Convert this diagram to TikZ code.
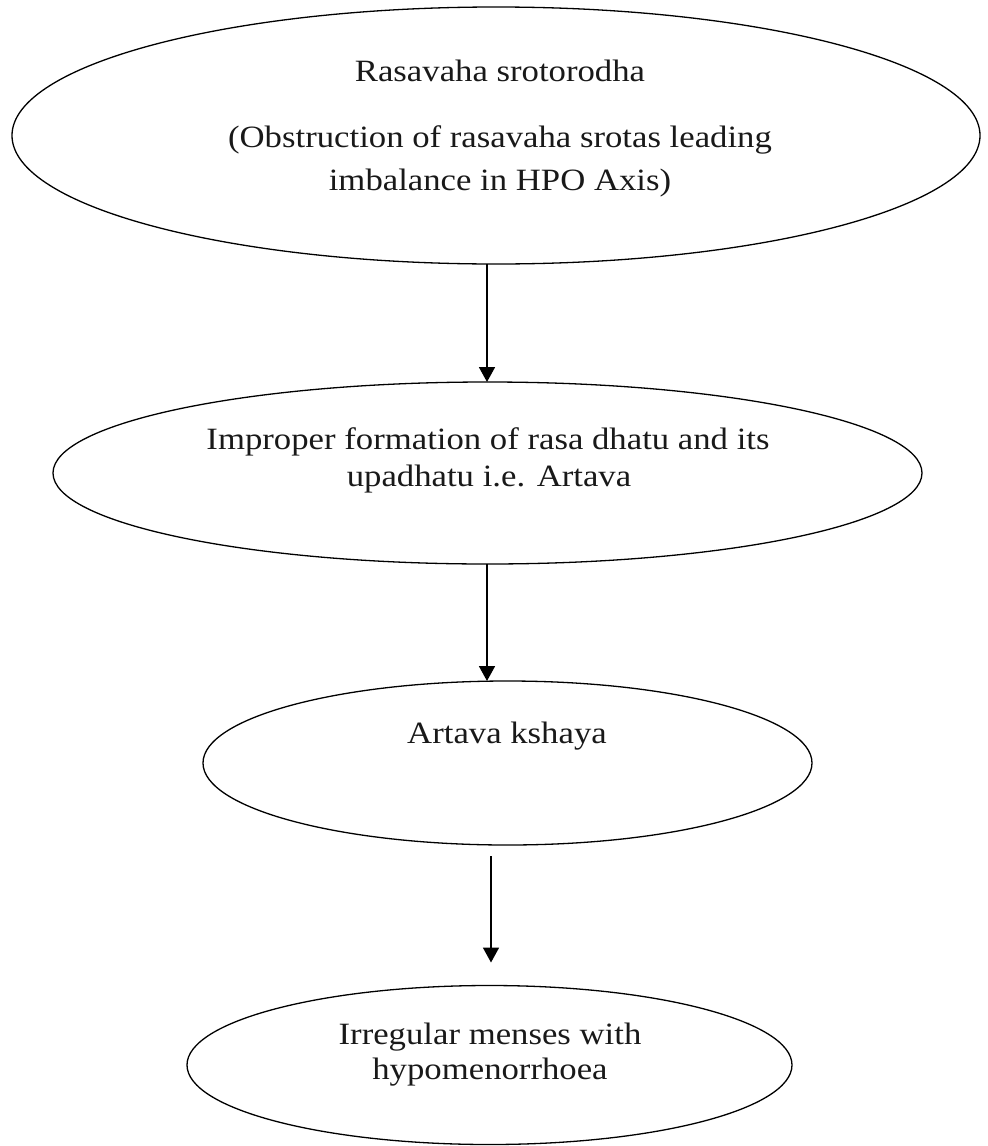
\documentclass[tikz,border=0pt]{standalone}
\usepackage{fontspec}
\setmainfont{Liberation Serif}[FakeStretch=1.12]
\usetikzlibrary{shapes.geometric,arrows.meta}
\begin{document}
\begin{tikzpicture}[x=1pt,y=-1pt,
  oval/.style={draw=black,ellipse,line width=1.3pt,inner sep=0pt,outer sep=0pt},
  lbl/.style={anchor=base,inner sep=0pt,text=black!90,font=\fontsize{31}{37}\selectfont},
  arr/.style={line width=1.8pt,-{Triangle[length=15pt,width=16pt]}}]
\useasboundingbox (0,0) rectangle (988,1146);
% ellipses
\node[oval,minimum width=968pt,minimum height=257pt] (e1) at (496,135.5) {};
\node[oval,minimum width=869pt,minimum height=182pt] (e2) at (487.5,473) {};
\node[oval,minimum width=609pt,minimum height=164pt] (e3) at (507.5,763) {};
\node[oval,minimum width=605pt,minimum height=159pt] (e4) at (489.5,1065) {};
% texts
\node[lbl] (t1a) at (500,81) {Rasavaha srotorodha};
\node[lbl] (t1b) at (500,147) {(Obstruction of rasavaha srotas leading};
\node[lbl] (t1c) at (500,190) {imbalance in HPO Axis)};
\node[lbl] (t2a) at (488,449) {Improper formation of rasa dhatu and its};
\node[lbl] (t2b) at (489,486) {upadhatu i.e. Artava};
\node[lbl] (t3) at (507,743) {Artava kshaya};
\node[lbl] (t4a) at (490,1044) {Irregular menses with};
\node[lbl] (t4b) at (490,1079) {hypomenorrhoea};
% arrow columns
\coordinate (c1) at (487,0);
\coordinate (c2) at (487,0);
\coordinate (c3) at (491,0);
\draw[arr] (e1.south -| c1) -- (e2.north -| c1);
\draw[arr] (e2.south -| c2) -- (e3.north -| c2);
\draw[arr,shorten <=11pt,shorten >=23pt] (e3.south -| c3) -- (e4.north -| c3);
\end{tikzpicture}
\end{document}
